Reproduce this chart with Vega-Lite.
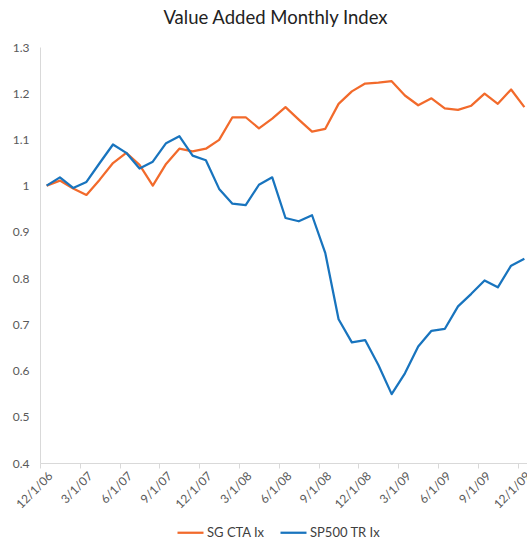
{
  "$schema": "https://vega.github.io/schema/vega-lite/v6.json",
  "width": 487,
  "height": 416,
  "autosize": "none",
  "padding": {"left": 40, "top": 47, "right": 0, "bottom": 78},
  "background": "white",
  "config": {
    "font": "Lato",
    "view": {"stroke": null}
  },
  "title": {
    "text": "Value Added Monthly Index",
    "font": "Lato",
    "fontSize": 18.5,
    "fontWeight": "normal",
    "color": "#222222",
    "anchor": "middle",
    "dx": -8,
    "offset": 14
  },
  "data": {
    "values": [
      {"date": "12/1/06", "SG CTA Ix": 1.000, "SP500 TR Ix": 1.000},
      {"date": "1/1/07", "SG CTA Ix": 1.011, "SP500 TR Ix": 1.018},
      {"date": "2/1/07", "SG CTA Ix": 0.994, "SP500 TR Ix": 0.995},
      {"date": "3/1/07", "SG CTA Ix": 0.980, "SP500 TR Ix": 1.008},
      {"date": "4/1/07", "SG CTA Ix": 1.013, "SP500 TR Ix": 1.049},
      {"date": "5/1/07", "SG CTA Ix": 1.049, "SP500 TR Ix": 1.089},
      {"date": "6/1/07", "SG CTA Ix": 1.071, "SP500 TR Ix": 1.071},
      {"date": "7/1/07", "SG CTA Ix": 1.045, "SP500 TR Ix": 1.037},
      {"date": "8/1/07", "SG CTA Ix": 1.000, "SP500 TR Ix": 1.052},
      {"date": "9/1/07", "SG CTA Ix": 1.047, "SP500 TR Ix": 1.092},
      {"date": "10/1/07", "SG CTA Ix": 1.080, "SP500 TR Ix": 1.107},
      {"date": "11/1/07", "SG CTA Ix": 1.074, "SP500 TR Ix": 1.065},
      {"date": "12/1/07", "SG CTA Ix": 1.080, "SP500 TR Ix": 1.055},
      {"date": "1/1/08", "SG CTA Ix": 1.099, "SP500 TR Ix": 0.993},
      {"date": "2/1/08", "SG CTA Ix": 1.148, "SP500 TR Ix": 0.961},
      {"date": "3/1/08", "SG CTA Ix": 1.148, "SP500 TR Ix": 0.958},
      {"date": "4/1/08", "SG CTA Ix": 1.124, "SP500 TR Ix": 1.002},
      {"date": "5/1/08", "SG CTA Ix": 1.145, "SP500 TR Ix": 1.018},
      {"date": "6/1/08", "SG CTA Ix": 1.170, "SP500 TR Ix": 0.930},
      {"date": "7/1/08", "SG CTA Ix": 1.143, "SP500 TR Ix": 0.923},
      {"date": "8/1/08", "SG CTA Ix": 1.117, "SP500 TR Ix": 0.936},
      {"date": "9/1/08", "SG CTA Ix": 1.123, "SP500 TR Ix": 0.854},
      {"date": "10/1/08", "SG CTA Ix": 1.177, "SP500 TR Ix": 0.711},
      {"date": "11/1/08", "SG CTA Ix": 1.204, "SP500 TR Ix": 0.661},
      {"date": "12/1/08", "SG CTA Ix": 1.221, "SP500 TR Ix": 0.666},
      {"date": "1/1/09", "SG CTA Ix": 1.223, "SP500 TR Ix": 0.612},
      {"date": "2/1/09", "SG CTA Ix": 1.226, "SP500 TR Ix": 0.549},
      {"date": "3/1/09", "SG CTA Ix": 1.195, "SP500 TR Ix": 0.594},
      {"date": "4/1/09", "SG CTA Ix": 1.174, "SP500 TR Ix": 0.652},
      {"date": "5/1/09", "SG CTA Ix": 1.189, "SP500 TR Ix": 0.686},
      {"date": "6/1/09", "SG CTA Ix": 1.167, "SP500 TR Ix": 0.690},
      {"date": "7/1/09", "SG CTA Ix": 1.164, "SP500 TR Ix": 0.739},
      {"date": "8/1/09", "SG CTA Ix": 1.173, "SP500 TR Ix": 0.766},
      {"date": "9/1/09", "SG CTA Ix": 1.199, "SP500 TR Ix": 0.795},
      {"date": "10/1/09", "SG CTA Ix": 1.177, "SP500 TR Ix": 0.780},
      {"date": "11/1/09", "SG CTA Ix": 1.208, "SP500 TR Ix": 0.827},
      {"date": "12/1/09", "SG CTA Ix": 1.170, "SP500 TR Ix": 0.842}
    ]
  },
  "transform": [
    {"fold": ["SG CTA Ix", "SP500 TR Ix"], "as": ["series", "value"]}
  ],
  "mark": {"type": "line", "strokeWidth": 2.25, "strokeJoin": "round"},
  "encoding": {
    "x": {
      "field": "date",
      "type": "ordinal",
      "sort": null,
      "scale": {"type": "point", "range": [0, 491], "padding": 0.5},
      "axis": {
        "title": null,
        "values": ["12/1/06", "3/1/07", "6/1/07", "9/1/07", "12/1/07", "3/1/08", "6/1/08", "9/1/08", "12/1/08", "3/1/09", "6/1/09", "9/1/09", "12/1/09"],
        "labelAngle": -45,
        "labelAlign": "right",
        "labelBaseline": "top",
        "labelFontSize": 12,
        "labelColor": "#595959",
        "labelPadding": 2,
        "tickOffset": -6.63,
        "labelOffset": 6.63,
        "tickSize": 5,
        "tickColor": "#d9d9d9",
        "domainColor": "#d9d9d9",
        "grid": false,
        "labelOverlap": false
      }
    },
    "y": {
      "field": "value",
      "type": "quantitative",
      "scale": {"domain": [0.4, 1.3], "nice": false, "zero": false},
      "axis": {
        "title": null,
        "values": [0.4, 0.5, 0.6, 0.7, 0.8, 0.9, 1.0, 1.1, 1.2, 1.3],
        "format": "~g",
        "ticks": false,
        "grid": false,
        "domainColor": "#d9d9d9",
        "labelFontSize": 12,
        "labelColor": "#595959",
        "labelPadding": 11
      }
    },
    "color": {
      "field": "series",
      "type": "nominal",
      "scale": {"domain": ["SG CTA Ix", "SP500 TR Ix"], "range": ["#F26A2B", "#1874BE"]},
      "legend": {
        "title": null,
        "orient": "none",
        "direction": "horizontal",
        "legendX": 136,
        "legendY": 471,
        "symbolType": "stroke",
        "symbolSize": 676,
        "symbolStrokeWidth": 2.25,
        "labelFontSize": 13,
        "labelColor": "#404040",
        "labelOffset": 2,
        "columnPadding": 11
      }
    }
  }
}
